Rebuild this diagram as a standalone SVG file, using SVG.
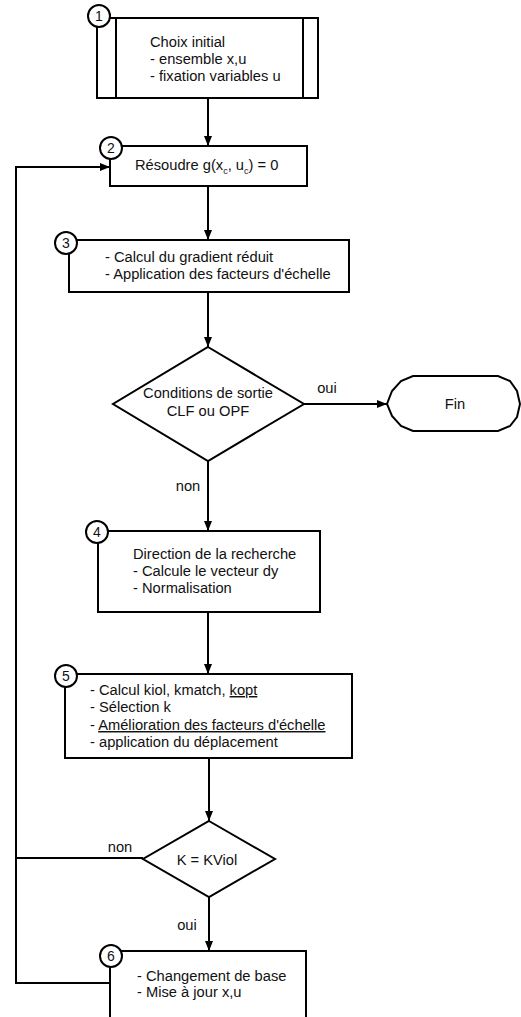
<svg xmlns="http://www.w3.org/2000/svg" width="521" height="1017" viewBox="0 0 521 1017">
<defs>
<marker id="arr" markerWidth="10" markerHeight="8" refX="10" refY="4" orient="auto" markerUnits="userSpaceOnUse">
<path d="M0,0 L10,4 L0,8 Z" fill="#000"/>
</marker>
<style>
.box{fill:#fff;stroke:#000;stroke-width:2}
.ln{fill:none;stroke:#000;stroke-width:2}
.arr{fill:none;stroke:#000;stroke-width:2;marker-end:url(#arr)}
text{font-family:"Liberation Sans",Arial,sans-serif;font-size:14.7px;fill:#111}
.c{text-anchor:middle}
.badge{fill:#fff;stroke:#000;stroke-width:2}
.num{font-size:14px;text-anchor:middle}
.sub{font-size:9px}
</style>
</defs>
<rect width="521" height="1017" fill="#fff"/>
<g id="connectors">
<line class="arr" x1="208" y1="98" x2="208" y2="146"/>
<line class="arr" x1="208" y1="186" x2="208" y2="240"/>
<line class="arr" x1="208" y1="292" x2="208" y2="347"/>
<line class="arr" x1="304" y1="404" x2="387" y2="404"/>
<line class="arr" x1="208" y1="461" x2="208" y2="531"/>
<line class="arr" x1="208" y1="612" x2="208" y2="674"/>
<line class="arr" x1="209" y1="758" x2="209" y2="821"/>
<line class="arr" x1="209" y1="897" x2="209" y2="951"/>
<line class="ln" x1="143" y1="858" x2="16" y2="858"/>
<polyline class="arr" points="110,983 16,983 16,167 110,167"/>
<text class="c" x="327" y="393">oui</text>
<text class="c" x="188" y="491">non</text>
<text class="c" x="120" y="852">non</text>
<text class="c" x="187" y="930">oui</text>
</g>
<g id="node1">
<rect class="box" x="97" y="18" width="221" height="80"/>
<line class="ln" x1="116" y1="18" x2="116" y2="98"/>
<line class="ln" x1="303" y1="18" x2="303" y2="98"/>
<text x="150" y="47">Choix initial</text>
<text x="150" y="64">- ensemble x,u</text>
<text x="150" y="81">- fixation variables u</text>
<circle class="badge" cx="99" cy="16" r="11"/>
<text class="num" x="99" y="21">1</text>
</g>
<g id="node2">
<rect class="box" x="110" y="146" width="197" height="40"/>
<text x="135" y="170">Résoudre g(x<tspan class="sub" dy="4">c</tspan><tspan dy="-4">, u</tspan><tspan class="sub" dy="4">c</tspan><tspan dy="-4">) = 0</tspan></text>
<circle class="badge" cx="111" cy="148" r="11"/>
<text class="num" x="111" y="153">2</text>
</g>
<g id="node3">
<rect class="box" x="69" y="240" width="280" height="52"/>
<text x="105" y="262">- Calcul du gradient réduit</text>
<text x="105" y="279">- Application des facteurs d'échelle</text>
<circle class="badge" cx="66" cy="243" r="11"/>
<text class="num" x="66" y="248">3</text>
</g>
<g id="decision1">
<polygon class="box" points="208,347 304,404 208,461 113,404"/>
<text class="c" x="208" y="398">Conditions de sortie</text>
<text class="c" x="208" y="416">CLF ou OPF</text>
</g>
<g id="fin">
<polygon class="box" points="413,376 498,376 510,381 517,391 520,404 517,417 510,426 498,431 413,431 401,426 392,416 387,404 392,391 401,381"/>
<text class="c" x="455" y="409">Fin</text>
</g>
<g id="node4">
<rect class="box" x="98" y="531" width="222" height="81"/>
<text x="133" y="559">Direction de la recherche</text>
<text x="133" y="576">- Calcule le vecteur dy</text>
<text x="133" y="593">- Normalisation</text>
<circle class="badge" cx="97" cy="532" r="11"/>
<text class="num" x="97" y="537">4</text>
</g>
<g id="node5">
<rect class="box" x="65" y="674" width="287" height="84"/>
<text x="90" y="695">- Calcul kiol, kmatch, <tspan text-decoration="underline">kopt</tspan></text>
<text x="90" y="712">- Sélection k</text>
<text x="90" y="730">- <tspan text-decoration="underline">Amélioration des facteurs d'échelle</tspan></text>
<text x="90" y="747">- application du déplacement</text>
<circle class="badge" cx="66" cy="676" r="11"/>
<text class="num" x="66" y="681">5</text>
</g>
<g id="decision2">
<polygon class="box" points="209,821 275,859 209,897 143,859"/>
<text class="c" x="207" y="865">K = KViol</text>
</g>
<g id="node6">
<rect class="box" x="110" y="951" width="196" height="90"/>
<text x="137" y="981">- Changement de base</text>
<text x="137" y="997">- Mise à jour x,u</text>
<circle class="badge" cx="111" cy="956" r="11"/>
<text class="num" x="111" y="961">6</text>
</g>
</svg>
